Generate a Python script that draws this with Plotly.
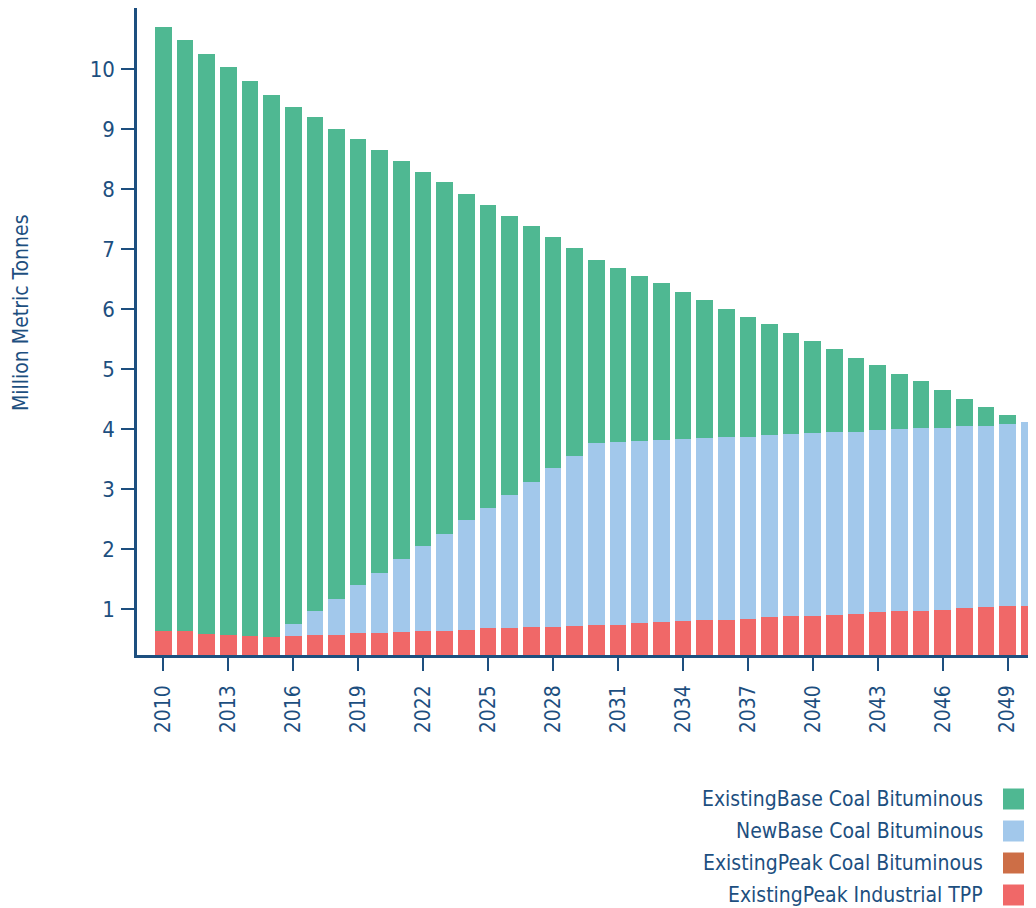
import plotly.graph_objects as go

years = list(range(2010, 2051))

existing_peak_industrial = [0.64, 0.63, 0.59, 0.57, 0.56, 0.54, 0.56, 0.57, 0.57, 0.60,
                            0.60, 0.62, 0.64, 0.64, 0.65, 0.69, 0.69, 0.70, 0.70, 0.72,
                            0.74, 0.74, 0.77, 0.79, 0.80, 0.82, 0.82, 0.84, 0.87, 0.89,
                            0.89, 0.90, 0.92, 0.955, 0.97, 0.97, 0.99, 1.02, 1.04, 1.055,
                            1.055]
existing_peak_coal = [0.0] * 41
new_base_coal = [0.0, 0.0, 0.0, 0.0, 0.0, 0.0, 0.20, 0.40, 0.60, 0.81,
                 1.01, 1.22, 1.42, 1.62, 1.84, 2.00, 2.22, 2.42, 2.65, 2.84,
                 3.03, 3.05, 3.03, 3.03, 3.04, 3.03, 3.05, 3.03, 3.03, 3.03,
                 3.05, 3.05, 3.03, 3.03, 3.03, 3.05, 3.03, 3.03, 3.01, 3.03,
                 3.07]
existing_base_coal = [10.06, 9.86, 9.66, 9.47, 9.24, 9.03, 8.61, 8.24, 7.84, 7.43,
                      7.04, 6.63, 6.23, 5.86, 5.43, 5.05, 4.65, 4.27, 3.85, 3.46,
                      3.05, 2.90, 2.75, 2.62, 2.45, 2.31, 2.14, 2.00, 1.86, 1.69,
                      1.53, 1.39, 1.24, 1.08, 0.92, 0.79, 0.64, 0.46, 0.32, 0.15,
                      0.0]

tick_years = list(range(2010, 2050, 3))

series = [
    ("ExistingPeak Industrial TPP", existing_peak_industrial, "#f06868"),
    ("ExistingPeak Coal Bituminous", existing_peak_coal, "#cd6e46"),
    ("NewBase Coal Bituminous", new_base_coal, "#a2c8eb"),
    ("ExistingBase Coal Bituminous", existing_base_coal, "#4fb892"),
]

TXT = "#1d4f7f"
FONT = "DejaVu Sans Condensed"

# plot area in page pixels: x 137..1036, y 8..655 (page has 8px body margin)
PX0, PX1, PY0, PY1 = 137, 1036, 8, 655
PW, PH = PX1 - PX0, PY1 - PY0


def px(x):
    return (x - PX0) / PW


def py(y):
    return (PY1 - y) / PH


fig = go.Figure()
for name, vals, col in series:
    fig.add_trace(go.Bar(x=years, y=vals, name=name, marker=dict(color=col, line=dict(width=0)),
                         showlegend=False))

fig.update_layout(
    width=1028, height=900,
    margin=dict(l=129, r=0, t=0, b=253, autoexpand=False),
    barmode="stack", bargap=0.23,
    plot_bgcolor="white", paper_bgcolor="white",
    font=dict(family=FONT, color=TXT, size=20),
    xaxis=dict(range=[2008.785, 2050.31], tickmode="array", tickvals=tick_years,
               ticktext=[str(y) for y in tick_years], tickangle=-90,
               ticks="outside", ticklen=13, tickwidth=2, tickcolor=TXT,
               ticklabelstandoff=6,
               showline=True, linecolor=TXT, linewidth=2.5, showgrid=False, zeroline=False,
               tickfont=dict(size=21, color=TXT)),
    yaxis=dict(range=[0.238, 11.02], tickmode="array", tickvals=list(range(1, 11)),
               ticks="outside", ticklen=13, tickwidth=2, tickcolor=TXT,
               ticklabelstandoff=2,
               showline=True, linecolor=TXT, linewidth=2.5, showgrid=False, zeroline=False,
               tickfont=dict(size=22, color=TXT)),
)

fig.add_annotation(text="Million Metric Tonnes", xref="paper", yref="paper",
                   x=px(21), y=py(313), textangle=-90,
                   showarrow=False, font=dict(size=21, color=TXT, family=FONT),
                   xanchor="center", yanchor="middle")

legend_rows = [799, 831, 863, 895]
for (name, vals, col), ypx in zip(reversed(series), legend_rows):
    fig.add_annotation(text=name, xref="paper", yref="paper", x=px(985), y=py(ypx),
                       xanchor="right", yanchor="middle", showarrow=False,
                       font=dict(size=21, color=TXT, family=FONT))
    fig.add_shape(type="rect", xref="paper", yref="paper",
                  x0=px(1003), x1=px(1024),
                  y0=py(ypx + 10.5), y1=py(ypx - 10.5),
                  fillcolor=col, line=dict(width=0))

fig.write_html("out.html")
